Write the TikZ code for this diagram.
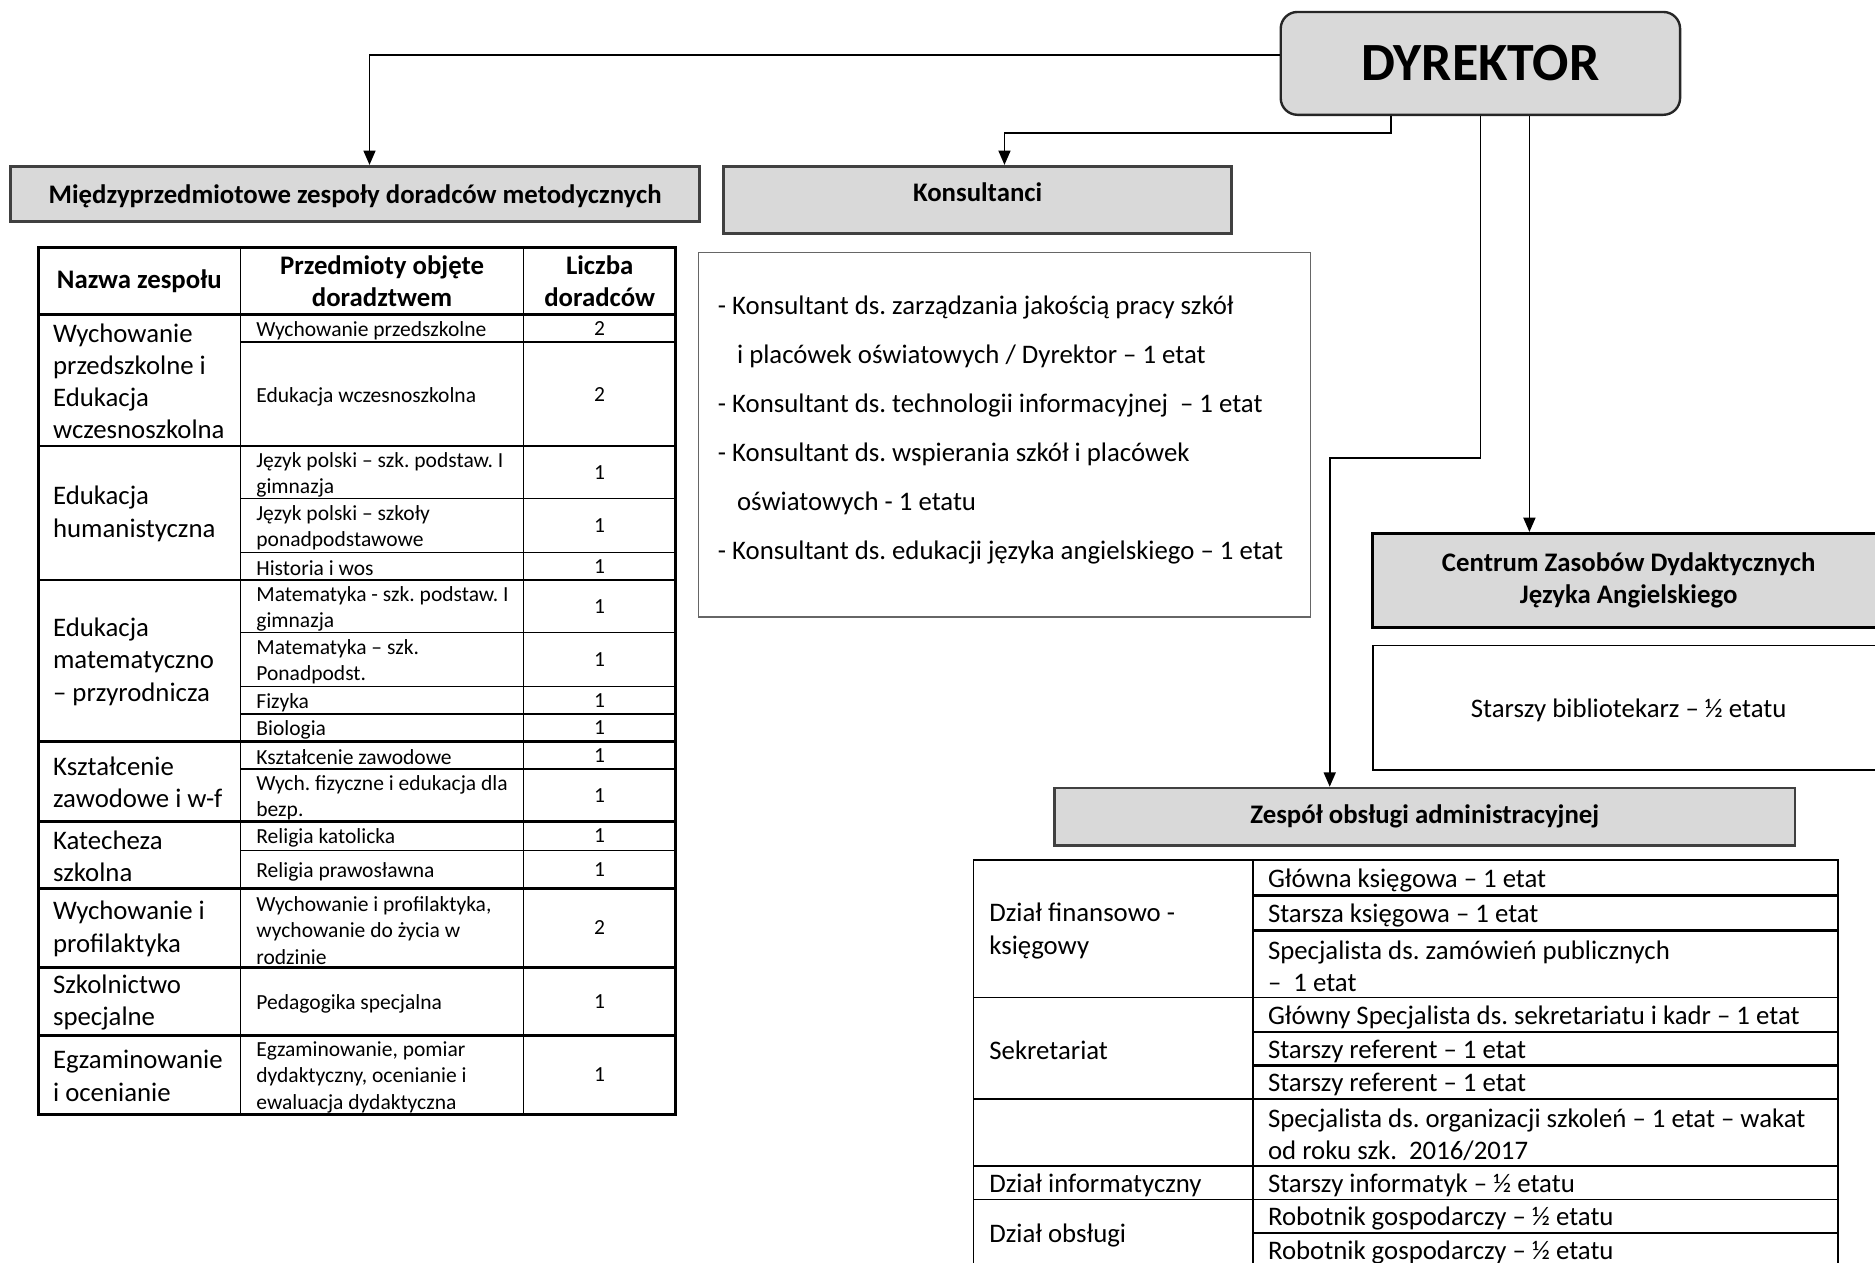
\documentclass[tikz,border=0pt]{standalone}
\usepackage{fontspec}
\setmainfont{Carlito}
\frenchspacing
\usetikzlibrary{arrows.meta}
\definecolor{boxgray}{HTML}{D9D9D9}
\newcommand{\celltxt}{\fontsize{11.2}{13.5}\selectfont}
\newcommand{\cellsmall}{\fontsize{9}{11}\selectfont}
\tikzset{
  headbox/.style={draw=black!75, line width=1.1pt, fill=boxgray, inner sep=0pt, font=\celltxt\bfseries},
  plainbox/.style={draw=black!60, line width=0.6pt, inner sep=0pt, font=\celltxt},
  conn/.style={line width=0.75pt, -{Triangle[length=6pt,width=5pt]}},
  tabline/.style={line width=0.6pt},
  tabthick/.style={line width=1.1pt},
  cell/.style={anchor=west, align=left, inner sep=0pt, yshift=-1pt, font=\celltxt},
  smallcell/.style={anchor=west, align=left, inner sep=0pt, yshift=-1pt, font=\cellsmall},
  numcell/.style={inner sep=0pt, font=\cellsmall},
  headcell/.style={align=center, inner sep=0pt, font=\celltxt\bfseries},
}
\begin{document}
\begin{tikzpicture}[x=0.5pt, y=-0.5pt]
  \useasboundingbox (0,0) rectangle (1568,1056);
  \clip (0,0) rectangle (1568,1056);
  % bloki
  \node[headbox, draw=black!85, line width=1pt, rounded corners=7pt, minimum width=167pt, minimum height=43pt,
        font=\fontsize{22.5}{27}\selectfont\bfseries] (dyr) at (1238,53) {DYREKTOR};
  \node[headbox, text height=10pt, minimum width=288pt, minimum height=23pt] (mzdm) at (297,162) {Międzyprzedmiotowe zespoły doradców metodycznych};
  \node[headbox, text depth=6pt, minimum width=212.5pt, minimum height=28pt] (kons) at (817.5,167) {Konsultanci};
  \node[plainbox, minimum width=256pt, minimum height=152.5pt] (konslist) at (840,363.5) {};
  \node[cell, font=\fontsize{11.2}{20.5}\selectfont] (konstxt) at (600,357.5)
    {- Konsultant ds. zarządzania jakością pracy szkół\\
     \hspace*{8pt}i placówek oświatowych / Dyrektor – 1 etat\\
     - Konsultant ds. technologii informacyjnej \ – 1 etat\\
     - Konsultant ds. wspierania szkół i placówek\\
     \hspace*{8pt}oświatowych - 1 etatu\\
     - Konsultant ds. edukacji języka angielskiego – 1 etat};
  \node[headbox, draw=black, align=center, minimum width=214pt, minimum height=39.5pt] (czd) at (1362,485.5)
    {Centrum Zasobów Dydaktycznych\\Języka Angielskiego};
  \node[plainbox, draw=black, text height=10pt, minimum width=214pt, minimum height=52pt] (bibl) at (1362,592) {Starszy bibliotekarz – ½ etatu};
  \node[headbox, minimum width=309.5pt, minimum height=24pt] (zoa) at (1191.5,683) {Zespół obsługi administracyjnej};
  % polaczenia
  \coordinate (zgiecie) at (1238,383);
  \draw[conn] ([yshift=3.5pt]dyr.west) -| ([xshift=6pt]mzdm.north);
  \draw[conn] ([xshift=-37.5pt]dyr.south) -- ++(0,14) -| ([xshift=11.25pt]kons.north);
  \draw[conn] (dyr.south) -- (zgiecie) -| ([xshift=-39.75pt]zoa.north);
  \draw[conn] ([xshift=20.5pt]dyr.south) -- ([xshift=20.5pt]dyr.south |- czd.north);
  % tabela doradcow
  \draw[tabthick] (32,207) rectangle (565,932);
  \draw[tabline] (201,207) -- (201,932) (438,207) -- (438,932);
  \foreach \y in {263,373,485,620,687,743,809,866} \draw[tabthick] (32,\y) -- (565,\y);
  \foreach \y in {286,417,462,529,574,597,643,711} \draw[tabline] (201,\y) -- (565,\y);
  \node[headcell] (hnazwa) at (116.5,235) {Nazwa zespołu};
  \node[headcell] (hprzed) at (319.5,235) {Przedmioty objęte\\doradztwem};
  \node[headcell] (hliczba) at (501.5,235) {Liczba\\doradców};
  \foreach \y/\t [count=\i] in {318/{Wychowanie\\przedszkolne i\\Edukacja\\wczesnoszkolna}, 429/{Edukacja\\humanistyczna},
      552.5/{Edukacja\\matematyczno\\– przyrodnicza}, 653.5/{Kształcenie\\zawodowe i w-f}, 715/{Katecheza\\szkolna},
      776/{Wychowanie i\\profilaktyka}, 837.5/{Szkolnictwo\\specjalne}, 899/{Egzaminowanie\\i ocenianie}}
    \node[cell, yshift=0.6pt] (zesp\i) at (44,\y) {\t};
  \foreach \y/\t [count=\i] in {274.5/Wychowanie przedszkolne, 329.5/Edukacja wczesnoszkolna,
      395/{Język polski – szk. podstaw. I\\gimnazja}, 439.5/{Język polski – szkoły\\ponadpodstawowe}, 473.5/Historia i wos,
      507/{Matematyka - szk. podstaw. I\\gimnazja}, 551.5/{Matematyka – szk.\\Ponadpodst.}, 585.5/Fizyka, 608.5/Biologia,
      631.5/Kształcenie zawodowe, 665/{Wych. fizyczne i edukacja dla\\bezp.}, 699/Religia katolicka, 727/Religia prawosławna,
      776/{Wychowanie i profilaktyka,\\wychowanie do życia w\\rodzinie}, 837.5/Pedagogika specjalna,
      899/{Egzaminowanie, pomiar\\dydaktyczny, ocenianie i\\ewaluacja dydaktyczna}}
    \node[smallcell] (przed\i) at (214,\y) {\t};
  \foreach \y/\n [count=\i] in {274.5/2, 329.5/2, 395/1, 439.5/1, 473.5/1, 507/1, 551.5/1, 585.5/1,
      608.5/1, 631.5/1, 665/1, 699/1, 727/1, 776/2, 837.5/1, 899/1}
    \node[numcell] (liczba\i) at (501.5,\y) {\n};
  % tabela administracji
  \draw[tabline] (814,719) rectangle (1537,1070);
  \draw[tabline] (1048,719) -- (1048,1070);
  \foreach \y in {834,919,975,1003} \draw[tabline] (814,\y) -- (1537,\y);
  \foreach \y in {749,778,863,891,1031} \draw[tabthick] (1048,\y) -- (1537,\y);
  \foreach \y/\t [count=\i] in {776.5/{Dział finansowo -\\księgowy}, 876.5/Sekretariat, 989/Dział informatyczny, 1031/Dział obsługi}
    \node[cell] (dzial\i) at (827,\y) {\t};
  \foreach \y/\t [count=\i] in {734/Główna księgowa – 1 etat, 763.5/Starsza księgowa – 1 etat,
      806/{Specjalista ds. zamówień publicznych\\– \ 1 etat}, 848.5/Główny Specjalista ds. sekretariatu i kadr – 1 etat,
      877/Starszy referent – 1 etat, 905/Starszy referent – 1 etat,
      947/{Specjalista ds. organizacji szkoleń – 1 etat – wakat\\od roku szk. \ 2016{/}2017},
      989/Starszy informatyk – ½ etatu, 1017/Robotnik gospodarczy – ½ etatu, 1045/Robotnik gospodarczy – ½ etatu}
    \node[cell] (etat\i) at (1060,\y) {\t};
\end{tikzpicture}
\end{document}
